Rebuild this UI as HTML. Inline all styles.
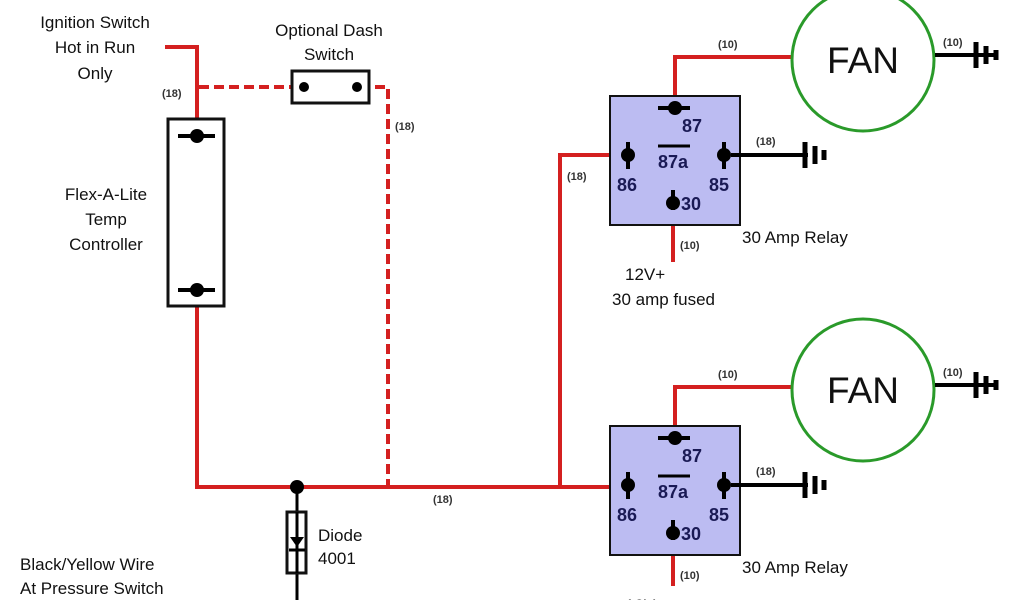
<!DOCTYPE html>
<html><head><meta charset="utf-8"><style>
html,body{margin:0;padding:0;background:#fff;}
svg{display:block;}
text{font-family:"Liberation Sans",sans-serif;fill:#111;}
.s{font-size:11px;font-weight:bold;fill:#333;}
.l{font-size:17px;}
.p{font-size:18px;font-weight:bold;fill:#1a1a55;font-family:"Liberation Sans Narrow","Liberation Sans",sans-serif;}
</style></head><body>
<svg width="1024" height="600" viewBox="0 0 1024 600" xmlns="http://www.w3.org/2000/svg">
<defs>
<g id="relay">
  <rect x="610" y="96" width="130" height="129" fill="#bcbcf2" stroke="#111" stroke-width="2"/>
  <line x1="658" y1="108" x2="690" y2="108" stroke="#000" stroke-width="4"/>
  <circle cx="675" cy="108" r="7" fill="#000"/>
  <line x1="628" y1="142" x2="628" y2="169" stroke="#000" stroke-width="4"/>
  <circle cx="628" cy="155" r="7" fill="#000"/>
  <line x1="724" y1="142" x2="724" y2="169" stroke="#000" stroke-width="4"/>
  <circle cx="724" cy="155" r="7" fill="#000"/>
  <line x1="673" y1="190" x2="673" y2="210" stroke="#000" stroke-width="4"/>
  <circle cx="673" cy="203" r="7" fill="#000"/>
  <line x1="658" y1="146" x2="690" y2="146" stroke="#000" stroke-width="3"/>
  <text class="p" x="682" y="132">87</text>
  <text class="p" x="658" y="168">87a</text>
  <text class="p" x="617" y="191">86</text>
  <text class="p" x="709" y="191">85</text>
  <text class="p" x="681" y="210">30</text>
  <line x1="731" y1="155" x2="808" y2="155" stroke="#000" stroke-width="4"/>
  <line x1="805" y1="142" x2="805" y2="168" stroke="#000" stroke-width="5"/>
  <line x1="815" y1="146" x2="815" y2="164" stroke="#000" stroke-width="5"/>
  <line x1="824" y1="150" x2="824" y2="160" stroke="#000" stroke-width="5"/>
  <text class="s" x="756" y="145">(18)</text>
  <text class="l" x="742" y="243">30 Amp Relay</text>
</g>
<g id="fan">
  <circle cx="863" cy="60" r="71" fill="#fff" stroke="#2a9a2a" stroke-width="3"/>
  <text x="863" y="73" text-anchor="middle" style="font-size:37px">FAN</text>
  <line x1="935" y1="55" x2="998" y2="55" stroke="#000" stroke-width="4"/>
  <line x1="976" y1="42" x2="976" y2="68" stroke="#000" stroke-width="5"/>
  <line x1="986" y1="46" x2="986" y2="64" stroke="#000" stroke-width="5"/>
  <line x1="996" y1="50" x2="996" y2="60" stroke="#000" stroke-width="5"/>
  <text class="s" x="943" y="46">(10)</text>
</g>
</defs>

<g stroke="#d42020" stroke-width="4" fill="none">
  <polyline points="165,47 197,47 197,120"/>
  <polyline points="197,306 197,487 628,487"/>
  <polyline points="560,487 560,155 628,155"/>
  <polyline points="673,225 673,262"/>
  <polyline points="675,108 675,57 792,57"/>
  <polyline points="673,555 673,586"/>
  <polyline points="675,438 675,387 792,387"/>
  <g stroke-dasharray="10,5">
    <polyline points="199,87 300,87"/>
    <polyline points="360,87 388,87 388,487"/>
  </g>
</g>

<use href="#relay"/>
<use href="#relay" transform="translate(0,330)"/>
<use href="#fan"/>
<use href="#fan" transform="translate(0,330)"/>

<rect x="168" y="119" width="56" height="187" fill="#fff" stroke="#111" stroke-width="3"/>
<line x1="178" y1="136" x2="215" y2="136" stroke="#000" stroke-width="4"/>
<circle cx="197" cy="136" r="7" fill="#000"/>
<line x1="178" y1="290" x2="215" y2="290" stroke="#000" stroke-width="4"/>
<circle cx="197" cy="290" r="7" fill="#000"/>

<rect x="292" y="71" width="77" height="32" fill="#fff" stroke="#111" stroke-width="3"/>
<circle cx="304" cy="87" r="5" fill="#000"/>
<circle cx="357" cy="87" r="5" fill="#000"/>

<line x1="297" y1="487" x2="297" y2="600" stroke="#000" stroke-width="3"/>
<rect x="287" y="512" width="19" height="61" fill="#fff" stroke="#111" stroke-width="3"/>
<line x1="297" y1="512" x2="297" y2="573" stroke="#000" stroke-width="3"/>
<polygon points="290,537 304,537 297,547" fill="#000"/>
<line x1="289" y1="550" x2="305" y2="550" stroke="#000" stroke-width="3"/>
<circle cx="297" cy="487" r="7" fill="#000"/>

<text class="l" x="95" y="28" text-anchor="middle">Ignition Switch</text>
<text class="l" x="95" y="53" text-anchor="middle">Hot in Run</text>
<text class="l" x="95" y="79" text-anchor="middle">Only</text>
<text class="s" x="162" y="97">(18)</text>
<text class="l" x="329" y="36" text-anchor="middle">Optional Dash</text>
<text class="l" x="329" y="60" text-anchor="middle">Switch</text>
<text class="s" x="395" y="130">(18)</text>
<text class="l" x="106" y="200" text-anchor="middle">Flex-A-Lite</text>
<text class="l" x="106" y="225" text-anchor="middle">Temp</text>
<text class="l" x="106" y="250" text-anchor="middle">Controller</text>
<text class="s" x="567" y="180">(18)</text>
<text class="s" x="433" y="503">(18)</text>
<text class="s" x="680" y="249">(10)</text>
<text class="l" x="625" y="280">12V+</text>
<text class="l" x="612" y="305">30 amp fused</text>
<text class="s" x="718" y="48">(10)</text>
<text class="s" x="718" y="378">(10)</text>
<text class="s" x="680" y="579">(10)</text>
<text class="l" x="625" y="611">12V+</text>
<text class="l" x="318" y="541">Diode</text>
<text class="l" x="318" y="564">4001</text>
<text class="l" x="20" y="570">Black/Yellow Wire</text>
<text class="l" x="20" y="594">At Pressure Switch</text>
</svg>
</body></html>
